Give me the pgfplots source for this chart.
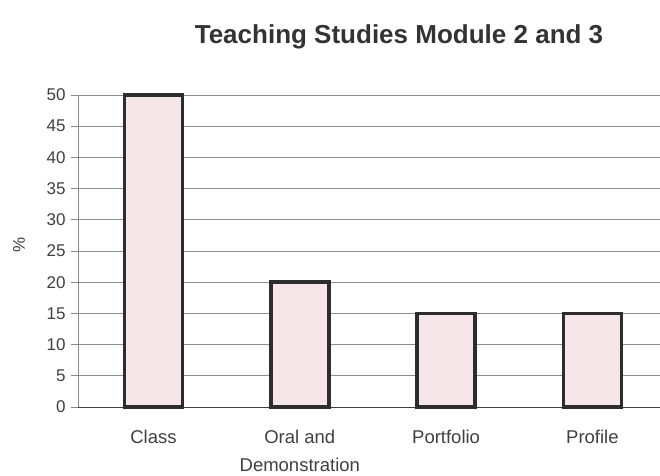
\documentclass[border=0pt]{standalone}
\usepackage{pgfplots}
\pgfplotsset{compat=1.18}
\usepackage{fontspec}
\setmainfont{Liberation Sans}
\definecolor{barfill}{RGB}{246,230,234}
\definecolor{baredge}{RGB}{45,45,45}
\definecolor{gridc}{RGB}{140,140,140}
\begin{document}
\begin{tikzpicture}
\path[use as bounding box] (0,0) rectangle (660bp,476bp);
\begin{axis}[
  at={(78bp,69bp)}, anchor=south west,
  scale only axis, width=582bp, height=312bp,
  xmin=-0.516, xmax=3.462, ymin=0, ymax=50,
  ytick={0,5,...,50},
  xtick={0,1,2,3},
  xticklabels={Class, {Oral and\\Demonstration}, Portfolio, Profile},
  xticklabel style={align=center, font=\fontsize{18.5bp}{28bp}\selectfont, text=black!75, yshift=-13bp},
  yticklabel style={font=\fontsize{17bp}{19bp}\selectfont, text=black!75, xshift=-2bp},
  /pgf/number format/assume math mode=true,
  ymajorgrids, grid style={gridc, line width=0.8bp},
  major x tick style={draw=none},
  ytick style={gridc, line width=0.8bp},
  tick align=outside, major tick length=7bp,
  axis x line*=bottom, axis y line*=left,
  x axis line style={black!75, line width=1bp, -},
  y axis line style={gridc, line width=0.8bp, -},
  clip=false,
]
\addplot[ybar, bar width=58bp, fill=barfill, draw=baredge, line width=3.5bp] coordinates {(0,50) (1,20) (2,15) (3,15)};
\end{axis}
\node[rotate=90, font=\fontsize{17bp}{19bp}\selectfont, text=black!75] at (19bp,231bp) {\%};
\node[font=\bfseries\fontsize{26bp}{30bp}\selectfont, text=black!80] at (399bp,439bp) {Teaching Studies Module 2 and 3};
\end{tikzpicture}
\end{document}
